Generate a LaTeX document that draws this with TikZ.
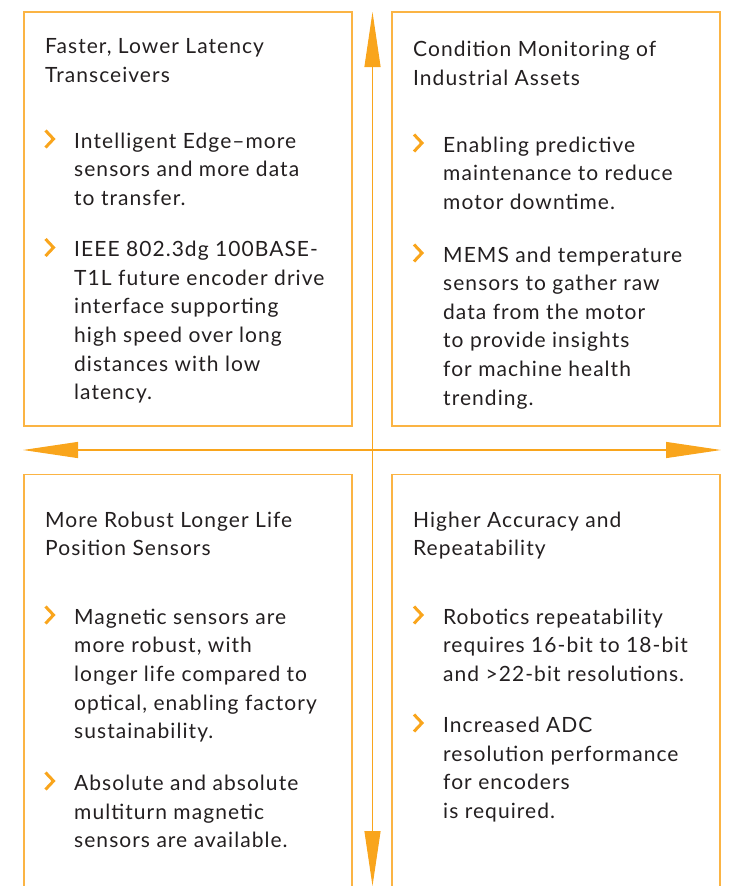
\documentclass[tikz,border=0pt]{standalone}
\usepackage{fontspec}
\setmainfont{Lato}[LetterSpace=5]
\usetikzlibrary{arrows.meta}
\definecolor{adiorange}{HTML}{F9A51C}
\definecolor{boxorange}{HTML}{FBB444}
\definecolor{textgray}{HTML}{231F20}
\tikzset{
  panel/.style={draw=boxorange, line width=1.3pt},
  txt/.style={anchor=base west, inner sep=0pt, align=left, text=textgray,
    font=\fontsize{21}{28.6}\selectfont},
  chev/.style={draw=adiorange, line width=3pt, miter limit=10},
  axis/.style={draw=adiorange, line width=1.1pt,
    {Triangle[length=55pt,width=16pt,fill=adiorange]}-{Triangle[length=55pt,width=16pt,fill=adiorange]}}
}
\newcommand{\chevat}[2]{\draw[chev] (#1,#2-8.5) -- (#1+8,#2) -- (#1,#2+8.5);}
\begin{document}
\begin{tikzpicture}[x=1pt,y=-1pt]
\useasboundingbox (0,0) rectangle (736,886);
% panels
\draw[panel] (24,12) rectangle (352,426);
\draw[panel] (392,12) rectangle (720,426);
\draw[panel] (24,886) -- (24,474.5) -- (352,474.5) -- (352,886);
\draw[panel] (392,886) -- (392,474.5) -- (720,474.5) -- (720,886);
% axes
\coordinate (top) at (372.5,12);
\coordinate (bot) at (372.5,886);
\coordinate (lft) at (23,450);
\coordinate (rgt) at (721,450);
\draw[axis] (bot) -- (top);
\draw[axis] (lft) -- (rgt);
% top-left (node anchors are at the baseline of the last line)
\node[txt] (tlT) at (45,82.1) {Faster, Lower Latency\\Transceivers};
\chevat{45.5}{139}
\node[txt] (tlA) at (74,205.5) {Intelligent Edge–more\\sensors and more data\\to transfer.};
\chevat{45.5}{247.5}
\node[txt] (tlB) at (74,399.7) {IEEE 802.3dg 100BASE-\\T1L future encoder drive\\interface supporting\\high speed over long\\distances with low\\latency.};
% top-right
\node[txt] (trT) at (413,85.3) {Condition Monitoring of\\Industrial Assets};
\chevat{414}{143}
\node[txt] (trA) at (443,209.2) {Enabling predictive\\maintenance to reduce\\motor downtime.};
\chevat{414}{253}
\node[txt] (trB) at (443,405) {MEMS and temperature\\sensors to gather raw\\data from the motor\\to provide insights\\for machine health\\trending.};
% bottom-left
\node[txt] (blT) at (45,555.9) {More Robust Longer Life\\Position Sensors};
\chevat{45.5}{615}
\node[txt] (blA) at (74,738.7) {Magnetic sensors are\\more robust, with\\longer life compared to\\optical, enabling factory\\sustainability.};
\chevat{45.5}{781}
\node[txt] (blB) at (74,847.7) {Absolute and absolute\\multiturn magnetic\\sensors are available.};
% bottom-right
\node[txt] (brT) at (413,555.9) {Higher Accuracy and\\Repeatability};
\chevat{414}{615}
\node[txt] (brA) at (443,681.5) {Robotics repeatability\\requires 16-bit to 18-bit\\and >22-bit resolutions.};
\chevat{414}{723}
\node[txt] (brB) at (443,818.3) {Increased ADC\\resolution performance\\for encoders\\is required.};
\end{tikzpicture}
\end{document}
